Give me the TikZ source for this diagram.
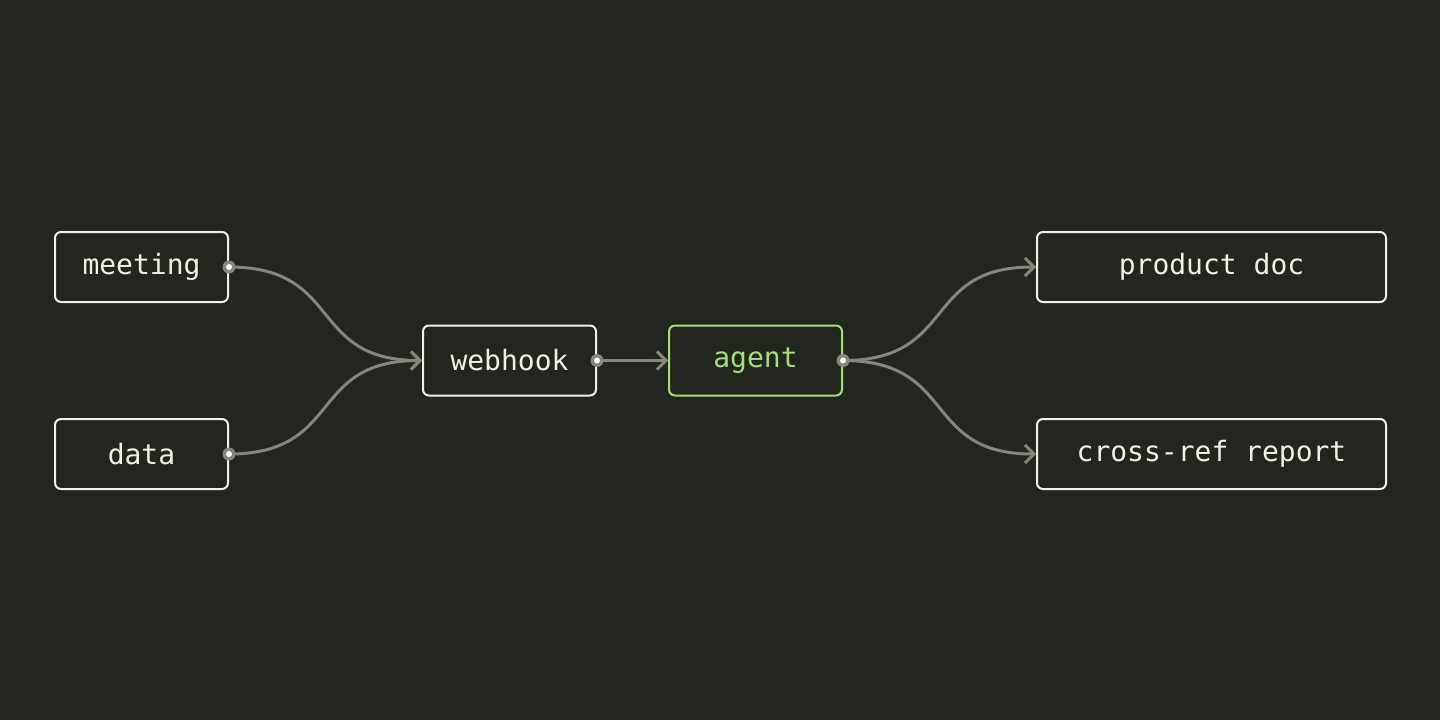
\documentclass[tikz,border=0pt]{standalone}
\usepackage{fontspec}
\setmonofont{DejaVu Sans Mono}
\usetikzlibrary{arrows.meta}
\definecolor{bg}{HTML}{23251F}
\definecolor{boxfg}{HTML}{F2F0E6}
\definecolor{edge}{HTML}{85857D}
\definecolor{accent}{HTML}{A6DE78}
\tikzset{
  box/.style={draw=boxfg, line width=2pt, rounded corners=6pt, fill=bg,
    text=boxfg, font=\ttfamily\fontsize{28}{31}\selectfont, inner sep=0pt,
    minimum height=70pt, anchor=center},
  small/.style={box, minimum width=173pt},
  wide/.style={box, minimum width=349pt},
  accentbox/.style={small, draw=accent, text=accent},
  conn/.style={draw=edge, line width=3pt, -{Straight Barb[length=9pt,width=18pt,line width=3pt]}},
  port/.style={circle, fill=edge, minimum size=13pt, inner sep=0pt},
  portin/.style={circle, fill=white, minimum size=6pt, inner sep=0pt}
}
\begin{document}
\begin{tikzpicture}[x=1pt,y=-1pt]
\fill[bg] (0,0) rectangle (1440,720);
\useasboundingbox (0,0) rectangle (1440,720);
\node[small] (meeting) at (141.5,267) {meeting};
\node[small] (data) at (141.5,454) {data};
\node[small] (webhook) at (509.5,360.5) {webhook};
\node[accentbox] (agent) at (755.5,360.5) {agent};
\node[wide] (product) at (1211.5,267) {product doc};
\node[wide] (report) at (1211.5,454) {cross-ref report};
\draw[conn] (meeting.east) .. controls +(115,0) and +(-115,0) .. (webhook.west);
\draw[conn] (data.east) .. controls +(115,0) and +(-115,0) .. (webhook.west);
\draw[conn] (webhook.east) -- (agent.west);
\draw[conn] (agent.east) .. controls +(115,0) and +(-115,0) .. (product.west);
\draw[conn] (agent.east) .. controls +(115,0) and +(-115,0) .. (report.west);
\foreach \n in {meeting,data,webhook,agent}{
  \node[port] (p\n) at (\n.east) {};
  \node[portin] (q\n) at (\n.east) {};
}
\end{tikzpicture}
\end{document}
